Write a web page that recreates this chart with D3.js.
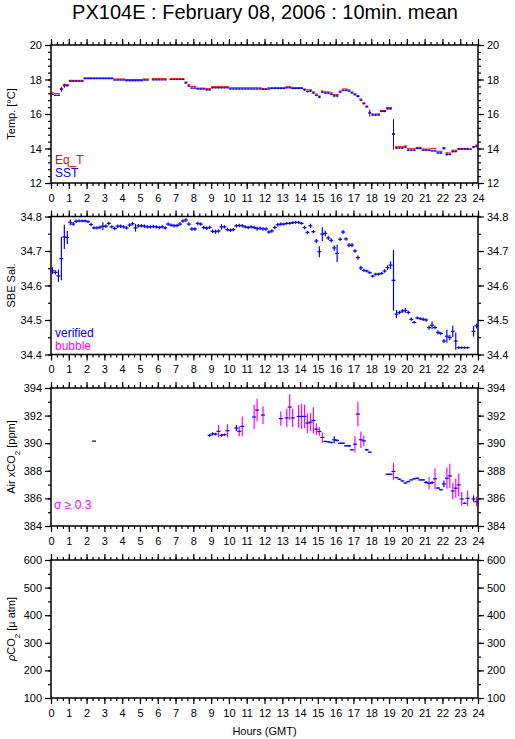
<!DOCTYPE html>
<html>
<head>
<meta charset="utf-8">
<script src="https://cdn.jsdelivr.net/npm/d3@7"></script>
<style>
  body { margin: 0; background: #fff; }
  text { font-family: "Liberation Sans", Arial, sans-serif; }
</style>
</head>
<body>
<div id="chart"></div>
<script>
// 10-minute means, one value per bin (6 per hour, 144 per day), null = no data
const eqT = [
  17.24, 17.18, 17.18, 17.47, 17.70, 17.70,
  17.95, 17.95, 17.95, 17.95, 17.95, 18.10,
  18.10, 18.10, 18.10, 18.10, 18.10, 18.10,
  18.10, 18.10, 18.10, 18.03, 18.03, 18.03,
  18.03, 18.00, 18.00, 18.00, 18.00, 18.00,
  18.00, 18.03, 18.03, null, 18.05, 18.05,
  18.05, 18.05, 18.05, null, 18.05, 18.05,
  18.05, 18.05, 18.05, 17.85, 17.70, 17.60,
  17.60, 17.50, 17.50, 17.50, 17.47, 17.47,
  17.58, 17.58, 17.58, 17.58, 17.58, 17.58,
  17.52, 17.52, 17.52, 17.52, 17.52, 17.52,
  17.52, 17.52, 17.52, 17.52, 17.52, 17.47,
  17.47, 17.52, 17.53, 17.53, 17.53, 17.53,
  17.53, 17.58, 17.58, 17.53, 17.53, 17.53,
  17.53, 17.45, 17.40, 17.40, 17.28, 17.16,
  17.04, 17.33, 17.28, 17.28, 17.22, 17.12,
  17.12, 17.33, 17.45, 17.45, 17.40, 17.28,
  17.18, 17.07, 16.87, 16.64, 16.46, 16.10,
  16.00, 16.00, 16.00, 16.20, 16.20, 16.37,
  16.37, 14.86, 14.10, 14.10, 14.10, 14.15,
  13.99, 13.99, 13.99, 14.06, 14.06, 13.97,
  13.97, 13.97, 13.99, 13.99, 13.84, 13.84,
  14.06, 13.74, 13.74, 13.90, 13.90, 14.00,
  14.00, 14.00, 14.00, null, 14.10, 14.20,
];
const sst = [
  17.14, 17.08, 17.08, 17.43, 17.64, 17.64,
  17.90, 17.90, 17.90, 17.90, 17.90, 18.05,
  18.05, 18.05, 18.05, 18.05, 18.05, 18.05,
  18.05, 18.05, 18.05, 17.97, 17.97, 17.97,
  17.97, 17.93, 17.93, 17.93, 17.93, 17.93,
  17.93, 17.97, 17.97, null, 17.98, 17.98,
  17.98, 17.98, 17.98, null, 18.00, 18.00,
  18.00, 18.00, 18.00, 17.80, 17.62, 17.50,
  17.50, 17.45, 17.45, 17.45, 17.40, 17.40,
  17.52, 17.52, 17.52, 17.52, 17.52, 17.52,
  17.45, 17.45, 17.45, 17.45, 17.45, 17.45,
  17.45, 17.45, 17.45, 17.45, 17.45, 17.43,
  17.43, 17.45, 17.48, 17.48, 17.48, 17.48,
  17.48, 17.52, 17.52, 17.48, 17.48, 17.48,
  17.48, 17.40, 17.30, 17.33, 17.22, 17.08,
  16.98, 17.27, 17.22, 17.22, 17.15, 17.05,
  17.05, 17.27, 17.37, 17.37, 17.33, 17.22,
  17.12, 17.02, 16.80, 16.60, 16.42, 16.05,
  15.94, 15.94, 15.94, 16.15, 16.15, 16.30,
  16.30, 14.82, 14.03, 14.03, 14.03, 14.08,
  13.90, 13.90, 13.90, 14.00, 14.00, 13.90,
  13.90, 13.90, 13.86, 13.86, 13.74, 13.74,
  13.99, 13.66, 13.66, 13.82, 13.82, 13.96,
  13.96, 13.96, 13.96, 13.96, 14.08, 14.12,
];
const sstSd = [
  0.04, 0.04, 0.04, 0.15, 0.12, 0.06,
  0.04, 0.04, 0.04, 0.04, 0.04, 0.04,
  0.03, 0.03, 0.03, 0.03, 0.03, 0.03,
  0.03, 0.03, 0.03, 0.03, 0.03, 0.03,
  0.03, 0.03, 0.03, 0.03, 0.03, 0.03,
  0.03, 0.03, 0.03, null, 0.03, 0.03,
  0.03, 0.03, 0.03, null, 0.03, 0.03,
  0.03, 0.03, 0.03, 0.05, 0.05, 0.05,
  0.05, 0.04, 0.04, 0.04, 0.04, 0.04,
  0.04, 0.04, 0.04, 0.04, 0.04, 0.04,
  0.04, 0.04, 0.04, 0.04, 0.04, 0.04,
  0.04, 0.04, 0.04, 0.04, 0.04, 0.04,
  0.04, 0.04, 0.04, 0.04, 0.04, 0.04,
  0.04, 0.04, 0.04, 0.04, 0.04, 0.04,
  0.04, 0.05, 0.05, 0.05, 0.05, 0.05,
  0.06, 0.05, 0.05, 0.05, 0.05, 0.08,
  0.08, 0.05, 0.05, 0.05, 0.05, 0.05,
  0.05, 0.06, 0.06, 0.06, 0.06, 0.20,
  0.05, 0.05, 0.05, 0.05, 0.05, 0.05,
  0.05, 0.88, 0.06, 0.05, 0.05, 0.05,
  0.05, 0.05, 0.05, 0.05, 0.05, 0.05,
  0.05, 0.05, 0.05, 0.05, 0.06, 0.06,
  0.06, 0.10, 0.06, 0.06, 0.05, 0.05,
  0.05, 0.05, 0.05, 0.05, 0.05, 0.06,
];
const salinity = [
  34.643, 34.638, 34.628, 34.678, 34.741, 34.739,
  34.783, 34.778, 34.786, 34.787, 34.787, 34.787,
  34.785, 34.777, 34.767, 34.767, 34.769, 34.772,
  34.772, 34.780, 34.770, 34.765, 34.772, 34.772,
  34.770, 34.767, 34.775, 34.779, 34.767, 34.773,
  34.773, 34.772, 34.770, 34.770, 34.771, 34.770,
  34.768, 34.770, 34.767, 34.778, 34.775, 34.773,
  34.774, 34.778, 34.787, 34.790, 34.778, 34.764,
  34.764, 34.780, 34.778, 34.768, 34.766, 34.768,
  34.757, 34.756, 34.758, 34.770, 34.770, 34.762,
  34.760, 34.762, 34.773, 34.774, 34.773, 34.770,
  34.768, 34.770, 34.768, 34.765, 34.766, 34.764,
  34.764, 34.755, 34.758, 34.768, 34.776, 34.778,
  34.778, 34.780, 34.780, 34.782, 34.783, 34.783,
  34.780, 34.768, 34.754, 34.773, 34.756, 34.729,
  34.698, 34.749, 34.751, 34.738, 34.731, 34.709,
  34.693, 34.734, 34.755, 34.735, 34.717, 34.717,
  34.700, 34.681, 34.651, 34.644, 34.642, 34.637,
  34.627, 34.633, 34.633, 34.635, 34.642, 34.652,
  34.659, 34.615, 34.517, 34.522, 34.526, 34.528,
  34.522, 34.502, 34.493, 34.506, 34.504, 34.502,
  34.500, 34.478, 34.485, 34.478, 34.464, 34.461,
  34.439, 34.453, 34.449, 34.467, 34.439, 34.420,
  34.420, 34.420, 34.420, null, 34.467, 34.483,
];
const salinitySd = [
  0.010, 0.006, 0.018, 0.063, 0.035, 0.019,
  0.008, 0.005, 0.005, 0.004, 0.004, 0.004,
  0.004, 0.005, 0.005, 0.005, 0.005, 0.011,
  0.005, 0.005, 0.005, 0.005, 0.005, 0.005,
  0.005, 0.005, 0.005, 0.005, 0.011, 0.005,
  0.005, 0.005, 0.005, 0.005, 0.005, 0.005,
  0.005, 0.005, 0.005, 0.005, 0.005, 0.005,
  0.005, 0.005, 0.005, 0.006, 0.005, 0.005,
  0.005, 0.005, 0.005, 0.005, 0.005, 0.005,
  0.005, 0.006, 0.005, 0.008, 0.005, 0.005,
  0.005, 0.005, 0.005, 0.005, 0.005, 0.005,
  0.005, 0.005, 0.005, 0.006, 0.005, 0.005,
  0.005, 0.005, 0.005, 0.005, 0.005, 0.005,
  0.004, 0.004, 0.004, 0.004, 0.004, 0.004,
  0.004, 0.005, 0.005, 0.006, 0.005, 0.006,
  0.016, 0.020, 0.008, 0.006, 0.006, 0.008,
  0.025, 0.005, 0.006, 0.005, 0.006, 0.006,
  0.005, 0.006, 0.006, 0.004, 0.004, 0.004,
  0.004, 0.004, 0.004, 0.004, 0.005, 0.007,
  0.011, 0.088, 0.012, 0.005, 0.005, 0.007,
  0.005, 0.005, 0.004, 0.004, 0.004, 0.005,
  0.005, 0.006, 0.011, 0.005, 0.006, 0.005,
  0.006, 0.019, 0.008, 0.016, 0.025, 0.004,
  0.003, 0.003, 0.003, null, 0.015, 0.007,
];
const airCo2 = [
  null, null, null, null, null, null,
  null, null, null, null, null, null,
  null, null, 390.15, null, null, null,
  null, null, null, null, null, null,
  null, null, null, null, null, null,
  null, null, null, null, null, null,
  null, null, null, null, null, null,
  null, null, null, null, null, null,
  null, null, null, null, null, 390.57,
  390.68, 390.66, 390.86, 390.57, 390.62, 390.90,
  null, null, 391.10, 390.86, 391.22, null,
  null, null, 391.90, 392.40, null, 392.04,
  null, null, null, null, null, 391.78,
  null, 391.83, 392.62, 391.83, null, 391.94,
  391.94, 391.94, 391.46, 391.53, 391.65, 391.02,
  390.85, 390.42, 390.13, 390.10, 390.05, 390.25,
  390.20, 390.00, 390.00, 389.81, 389.81, 389.52,
  389.93, 392.11, 390.25, 390.17, 389.52, 389.35,
  null, null, null, null, null, 387.75,
  387.75, 387.95, 387.51, 387.39, 387.27, 387.12,
  387.22, 387.34, 387.42, 387.46, 387.34, 387.34,
  387.16, 387.10, 387.14, 387.42, 386.75, 386.63,
  387.05, 387.46, 387.63, 386.54, 386.74, 386.98,
  385.96, 385.65, 386.01, null, 385.96, 385.77,
];
const airCo2Sd = [
  null, null, null, null, null, null,
  null, null, null, null, null, null,
  null, null, 0.03, null, null, null,
  null, null, null, null, null, null,
  null, null, null, null, null, null,
  null, null, null, null, null, null,
  null, null, null, null, null, null,
  null, null, null, null, null, null,
  null, null, null, null, null, 0.10,
  0.12, 0.10, 0.45, 0.10, 0.08, 0.48,
  null, null, 0.22, 0.36, 0.72, null,
  null, null, 0.88, 0.82, null, 0.64,
  null, null, null, null, null, 0.52,
  null, 0.66, 0.92, 0.66, null, 0.82,
  0.92, 0.85, 0.72, 0.64, 0.95, 0.42,
  0.31, 0.38, 0.05, 0.05, 0.05, 0.25,
  0.08, 0.05, 0.05, 0.05, 0.08, 0.05,
  0.60, 0.90, 0.60, 0.39, 0.08, 0.05,
  null, null, null, null, null, 0.05,
  0.05, 0.63, 0.05, 0.05, 0.05, 0.05,
  0.05, 0.05, 0.05, 0.05, 0.05, 0.05,
  0.10, 0.45, 0.10, 0.76, 0.05, 0.05,
  0.24, 0.76, 0.88, 0.60, 0.70, 0.82,
  0.50, 0.05, 0.56, null, 0.25, 0.35,
];
const sigmaLimit = 0.3;

const hourTicks = [0, 1, 2, 3, 4, 5, 6, 7, 8, 9, 10, 11, 12, 13, 14, 15, 16, 17, 18, 19, 20, 21, 22, 23, 24];
const tempTicks = [12, 14, 16, 18, 20];
const salTicks = [34.4, 34.5, 34.6, 34.7, 34.8];
const co2Ticks = [384, 386, 388, 390, 392, 394];
const pco2Ticks = [100, 200, 300, 400, 500, 600];

const width = 515;
const height = 739;
const left = 51;
const right = 478;
const panelH = 138;
const binHalf = 1 / 12;
const markHalf = 2; // px, half width of the horizontal mark

const svg = d3.select('#chart').append('svg')
  .attr('width', width)
  .attr('height', height);

svg.append('text')
  .attr('x', 265)
  .attr('y', 19)
  .attr('text-anchor', 'middle')
  .style('font-size', '20px')
  .text('PX104E : February 08, 2006 : 10min. mean');

const x = d3.scaleLinear().domain([0, 24]).range([left, right]);
const bins = d3.range(144).map(i => (i + 0.5) / 6);

// one panel = frame, ticks on four sides, labels
function drawPanel(top, domain, ticks, minorStep, fmt) {
  const y = d3.scaleLinear().domain(domain).range([top + panelH, top]);
  const g = svg.append('g');
  const minorY = d3.range(domain[0], domain[1] + 1e-9, minorStep);
  const minorX = d3.range(0, 24.001, 1 / 3);

  g.append('g')
    .attr('transform', `translate(0,${top + panelH})`)
    .call(d3.axisBottom(x).tickValues(minorX).tickSize(3).tickFormat(''));
  g.append('g')
    .attr('transform', `translate(0,${top + panelH})`)
    .call(d3.axisBottom(x).tickValues(hourTicks).tickSize(6).tickPadding(5).tickFormat(d => d));
  g.append('g')
    .attr('transform', `translate(0,${top})`)
    .call(d3.axisTop(x).tickValues(minorX).tickSize(3).tickFormat(''));
  g.append('g')
    .attr('transform', `translate(0,${top})`)
    .call(d3.axisTop(x).tickValues(hourTicks).tickSize(6).tickFormat(''));

  g.append('g')
    .attr('transform', `translate(${left},0)`)
    .call(d3.axisLeft(y).tickValues(minorY).tickSize(3).tickFormat(''));
  g.append('g')
    .attr('transform', `translate(${left},0)`)
    .call(d3.axisLeft(y).tickValues(ticks).tickSize(6).tickPadding(3).tickFormat(fmt));
  g.append('g')
    .attr('transform', `translate(${right},0)`)
    .call(d3.axisRight(y).tickValues(minorY).tickSize(3).tickFormat(''));
  g.append('g')
    .attr('transform', `translate(${right},0)`)
    .call(d3.axisRight(y).tickValues(ticks).tickSize(6).tickPadding(3).tickFormat(fmt));

  g.selectAll('.domain').remove();
  g.selectAll('.tick line').attr('stroke', '#000').attr('stroke-width', 1.2);
  g.selectAll('.tick text')
    .style('font-size', '11px')
    .style('font-family', '"Liberation Sans", Arial, sans-serif')
    .attr('fill', '#000');

  g.append('rect')
    .attr('x', left)
    .attr('y', top)
    .attr('width', right - left)
    .attr('height', panelH)
    .attr('fill', 'none')
    .attr('stroke', '#000')
    .attr('stroke-width', 1.5);

  return y;
}

function yTitle(cy, parts) {
  const t = svg.append('text')
    .attr('transform', `translate(15,${cy}) rotate(-90)`)
    .attr('text-anchor', 'middle')
    .style('font-size', '11px');
  parts.forEach((p) => {
    const s = t.append('tspan').text(p.text);
    if (p.sub) s.attr('baseline-shift', 'sub').style('font-size', '8px');
    if (p.italic) s.style('font-style', 'italic');
  });
}

function hLines(g, values, y, color, w, half) {
  g.selectAll(null)
    .data(bins.map((t, i) => ({ t, v: values[i] })).filter(d => d.v != null))
    .enter().append('line')
    .attr('x1', d => (half ? x(d.t) - half : x(d.t - binHalf)))
    .attr('x2', d => (half ? x(d.t) + half : x(d.t + binHalf)))
    .attr('y1', d => y(d.v))
    .attr('y2', d => y(d.v))
    .attr('stroke', color)
    .attr('stroke-width', w);
}

function vBars(g, values, sds, y, colorFn, w) {
  g.selectAll(null)
    .data(bins.map((t, i) => ({ t, v: values[i], s: sds[i] })).filter(d => d.v != null))
    .enter().append('line')
    .attr('x1', d => x(d.t))
    .attr('x2', d => x(d.t))
    .attr('y1', d => y(d.v - d.s))
    .attr('y2', d => y(d.v + d.s))
    .attr('stroke', colorFn)
    .attr('stroke-width', w);
}

const tops = [45, 216.5, 388, 560];
const blue = '#0000ff';
const red = '#ff0000';
const magenta = '#ff00ff';

// Temperature
const yT = drawPanel(tops[0], [12, 20], tempTicks, 0.4, d => d);
const gT = svg.append('g');
hLines(gT, eqT, yT, red, 1.1);
hLines(gT, sst, yT, blue, 1.1);
vBars(gT, sst, sstSd, yT, () => blue, 1);
yTitle(tops[0] + panelH / 2, [{ text: 'Temp. [°C]' }]);
svg.append('text').attr('x', 55).attr('y', 164).attr('fill', red)
  .style('font-size', '12px').text('Eq_T');
svg.append('text').attr('x', 55).attr('y', 177).attr('fill', blue)
  .style('font-size', '12px').text('SST');

// Salinity
const yS = drawPanel(tops[1], [34.4, 34.8], salTicks, 0.05, d3.format('.1f'));
const gS = svg.append('g');
hLines(gS, salinity, yS, blue, 1.2, markHalf);
vBars(gS, salinity, salinitySd, yS, () => blue, 1.2);
yTitle(tops[1] + panelH / 2, [{ text: 'SBE Sal.' }]);
svg.append('text').attr('x', 55).attr('y', 336.5).attr('fill', blue)
  .style('font-size', '12px').text('verified');
svg.append('text').attr('x', 55).attr('y', 349.5).attr('fill', magenta)
  .style('font-size', '12px').text('bubble');

// Air xCO2
const yC = drawPanel(tops[2], [384, 394], co2Ticks, 1, d => d);
const gC = svg.append('g');
vBars(gC, airCo2, airCo2Sd, yC, d => (d.s >= sigmaLimit ? magenta : blue), 1.2);
hLines(gC, airCo2, yC, blue, 1.2, markHalf);
yTitle(tops[2] + panelH / 2, [{ text: 'Air xCO' }, { text: '2', sub: true }, { text: ' [ppm]' }]);
svg.append('text').attr('x', 54).attr('y', 508.5).attr('fill', magenta)
  .style('font-size', '12px').text('σ ≥ 0.3');

// pCO2 (no data)
drawPanel(tops[3], [100, 600], pco2Ticks, 50, d => d);
yTitle(tops[3] + panelH / 2, [{ text: 'ρ', italic: true }, { text: 'CO' }, { text: '2', sub: true }, { text: ' [µ atm]' }]);

svg.append('text')
  .attr('x', (left + right) / 2)
  .attr('y', 735)
  .attr('text-anchor', 'middle')
  .style('font-size', '11px')
  .text('Hours (GMT)');
</script>
</body>
</html>
